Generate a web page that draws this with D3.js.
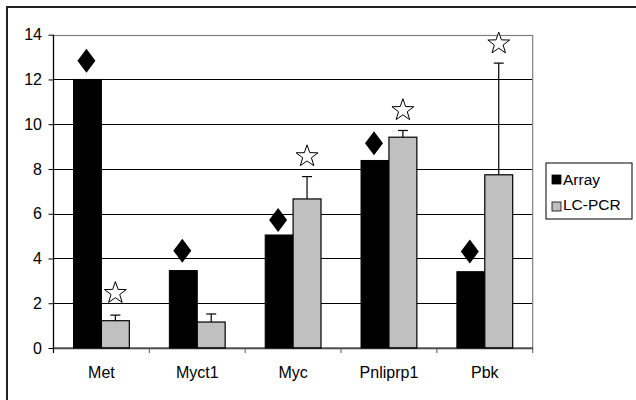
<!DOCTYPE html>
<html>
<head>
<meta charset="utf-8">
<script src="https://cdn.jsdelivr.net/npm/d3@7"></script>
<style>
  html, body { margin: 0; padding: 0; background: #fff; }
  svg { display: block; }
  text { font-family: "Liberation Sans", Arial, sans-serif; fill: #000; }
</style>
</head>
<body>
<script>
const categories = ["Met", "Myct1", "Myc", "Pnliprp1", "Pbk"];
const seriesNames = ["Array", "LC-PCR"];
const arrayValues = [12.0, 3.46, 5.05, 8.38, 3.41];
const lcpcrValues = [1.22, 1.16, 6.66, 9.42, 7.74];
const lcpcrErrors = [0.25, 0.36, 1.0, 0.30, 4.99];
const diamondMarks = [12.84, 4.35, 5.72, 9.15, 4.31];
const starMarks = [2.52, null, 8.63, 10.69, 13.67];
const yTicks = [0, 2, 4, 6, 8, 10, 12, 14];
const seriesColors = ["#000000", "#c0c0c0"];

const W = 636, H = 400;
const plot = { left: 53.5, right: 532.7, top: 34.7, bottom: 348 };
const FONT = "'Liberation Sans', Arial, sans-serif";

const svg = d3.select("body").append("svg").attr("width", W).attr("height", H);

// outer border (only top and left visible in the frame)
svg.append("rect").attr("x", 7).attr("y", 7).attr("width", 640).attr("height", 410)
  .attr("fill", "none").attr("stroke", "#222").attr("stroke-width", 2);

const y = d3.scaleLinear().domain([0, 14]).range([plot.bottom, plot.top]);
const x0 = d3.scaleBand().domain(categories).range([plot.left, plot.right]).paddingInner(0).paddingOuter(0);
const x1 = d3.scaleBand().domain(seriesNames).range([0, x0.bandwidth()]).paddingInner(0).paddingOuter(0.717);

// gridlines
svg.append("g").selectAll("line").data(yTicks.filter(t => t > 0 && t < 14)).join("line")
  .attr("x1", plot.left).attr("x2", plot.right)
  .attr("y1", d => Math.round(y(d)) + 0.5).attr("y2", d => Math.round(y(d)) + 0.5)
  .attr("stroke", "#000").attr("stroke-width", 1);

// plot area border (gray)
svg.append("rect").attr("x", plot.left).attr("y", Math.round(plot.top) + 0.5)
  .attr("width", plot.right - plot.left).attr("height", plot.bottom - plot.top)
  .attr("fill", "none").attr("stroke", "#808080").attr("stroke-width", 1.2);

// bars
const groups = svg.append("g").selectAll("g").data(categories).join("g")
  .attr("transform", d => `translate(${x0(d)},0)`);

groups.append("rect")
  .attr("x", x1("Array")).attr("width", x1.bandwidth())
  .attr("y", (d, i) => y(arrayValues[i])).attr("height", (d, i) => y(0) - y(arrayValues[i]))
  .attr("fill", seriesColors[0]).attr("stroke", "#000").attr("stroke-width", 1);

groups.append("rect")
  .attr("x", x1("LC-PCR")).attr("width", x1.bandwidth())
  .attr("y", (d, i) => y(lcpcrValues[i])).attr("height", (d, i) => y(0) - y(lcpcrValues[i]))
  .attr("fill", seriesColors[1]).attr("stroke", "#000").attr("stroke-width", 1.2);

// error bars
const errG = groups.append("g").attr("stroke", "#000").attr("stroke-width", 1.2);
const cx2 = x1("LC-PCR") + x1.bandwidth() / 2;
errG.append("line")
  .attr("x1", cx2).attr("x2", cx2)
  .attr("y1", (d, i) => y(lcpcrValues[i])).attr("y2", (d, i) => y(lcpcrValues[i] + lcpcrErrors[i]));
errG.append("line")
  .attr("x1", cx2 - 5).attr("x2", cx2 + 5)
  .attr("y1", (d, i) => y(lcpcrValues[i] + lcpcrErrors[i])).attr("y2", (d, i) => y(lcpcrValues[i] + lcpcrErrors[i]));

// diamond markers
const cx1 = x1("Array") + x1.bandwidth() / 2;
function diamondPath(cx, cy) {
  const hw = 9, hh = 12;
  return `M${cx},${cy - hh}L${cx + hw},${cy}L${cx},${cy + hh}L${cx - hw},${cy}Z`;
}
groups.append("path")
  .attr("d", (d, i) => diamondPath(cx1 - 1, y(diamondMarks[i])))
  .attr("fill", "#000");

// star markers
function starPath(cx, cy) {
  const R = 11.5, r = 4.6;
  const pts = [];
  for (let k = 0; k < 10; k++) {
    const a = -Math.PI / 2 + k * Math.PI / 5;
    const rad = k % 2 === 0 ? R : r;
    pts.push([cx + rad * Math.cos(a), cy + 1.5 + rad * Math.sin(a)]);
  }
  return "M" + pts.map(p => p.join(",")).join("L") + "Z";
}
groups.filter((d, i) => starMarks[i] !== null).append("path")
  .attr("d", d => { const i = categories.indexOf(d); return starPath(cx2, y(starMarks[i])); })
  .attr("fill", "#fff").attr("stroke", "#000").attr("stroke-width", 1);

// y axis
const yAxis = svg.append("g").attr("transform", `translate(${plot.left},0)`)
  .call(d3.axisLeft(y).tickValues(yTicks).tickSize(5).tickPadding(6.5).tickFormat(d3.format("d")));
yAxis.select(".domain").remove();
yAxis.append("line").attr("x1", 0).attr("x2", 0).attr("y1", plot.top).attr("y2", plot.bottom + 5)
  .attr("stroke", "#000").attr("stroke-width", 1.2);
yAxis.selectAll(".tick line").attr("stroke", "#000");
yAxis.selectAll(".tick text").attr("font-size", 16).style("font-family", FONT);

// x axis
const xAxis = svg.append("g").attr("transform", `translate(0,${plot.bottom})`)
  .call(d3.axisBottom(x0).tickSize(0));
xAxis.select(".domain").remove();
xAxis.append("line").attr("x1", plot.left).attr("x2", plot.right).attr("y1", 0).attr("y2", 0)
  .attr("stroke", "#000").attr("stroke-width", 1.2);
xAxis.selectAll(".tick text").attr("font-size", 16).attr("y", 30).attr("dy", 0).style("font-family", FONT);
const boundaries = categories.map(c => x0(c) + x0.step());
xAxis.append("g").selectAll("line").data(boundaries).join("line")
  .attr("x1", d => d).attr("x2", d => d).attr("y1", 0).attr("y2", 5)
  .attr("stroke", "#555").attr("stroke-width", 1);

// legend
const lg = svg.append("g").attr("transform", "translate(546,163)");
lg.append("rect").attr("x", 0).attr("y", 0).attr("width", 86).attr("height", 56)
  .attr("fill", "#fff").attr("stroke", "#000").attr("stroke-width", 1);
const items = lg.selectAll("g.item").data(seriesNames).join("g").attr("class", "item")
  .attr("transform", (d, i) => `translate(0,${16 + i * 25})`);
items.append("rect").attr("x", 6).attr("y", (d, i) => -4 + i * 2).attr("width", 9).attr("height", 9)
  .attr("fill", (d, i) => seriesColors[i]).attr("stroke", "#000").attr("stroke-width", 0.8);
items.append("text").attr("x", 17).attr("y", 6).attr("font-size", 15.5).text(d => d);
</script>
</body>
</html>
